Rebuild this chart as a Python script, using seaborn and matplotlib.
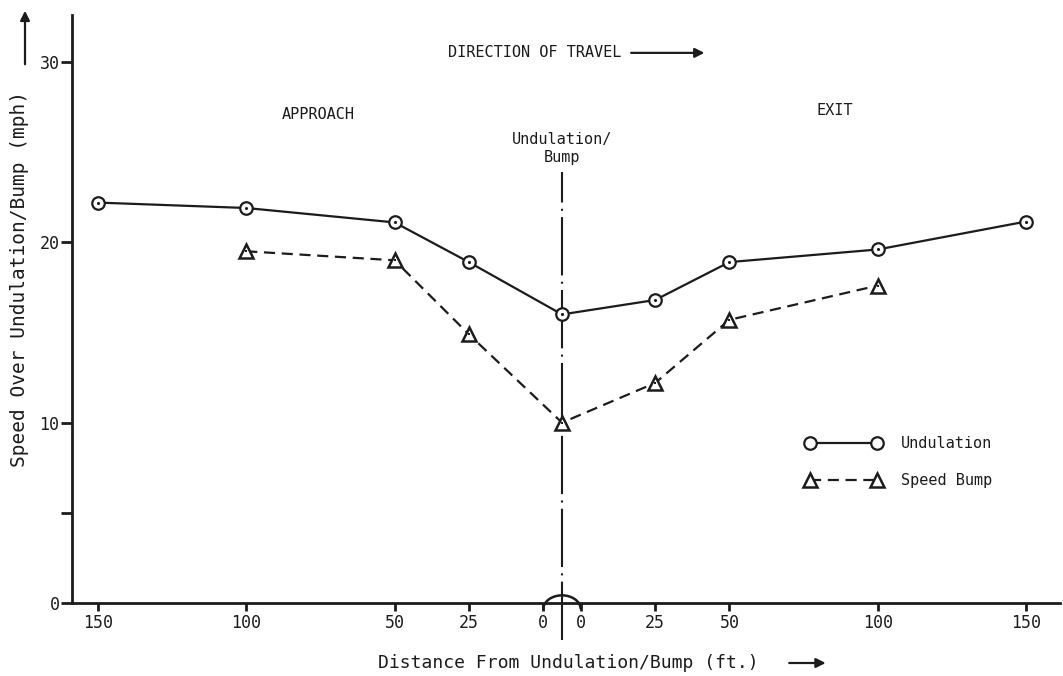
import numpy as np
import pandas as pd
import matplotlib
matplotlib.use("Agg")
import matplotlib.pyplot as plt
from matplotlib.patches import Arc, FancyArrowPatch
import seaborn as sns

# Signed distance from the undulation/bump (negative = approach, positive = exit), ft
undulation_dist = [-150, -100, -50, -25, 0, 25, 50, 100, 150]
undulation_speed = [22.2, 21.9, 21.1, 18.9, 16.0, 16.8, 18.9, 19.6, 21.15]

bump_dist = [-100, -50, -25, 0, 25, 50, 100]
bump_speed = [19.5, 19.0, 14.9, 10.0, 12.2, 15.7, 17.6]

tick_dist = [-150, -100, -50, -25, 0, 0, 25, 50, 100, 150]
tick_side = [-1, -1, -1, -1, -1, 1, 1, 1, 1, 1]
tick_labels = ["150", "100", "50", "25", "0", "0", "25", "50", "100", "150"]

y_ticks = [0, 5, 10, 20, 30]
y_tick_labels = ["0", "", "10", "20", "30"]

GAP = 6.4  # ft of blank space left on each side of the centre line


def to_axis(d, side=None):
    d = np.asarray(d, dtype=float)
    s = np.sign(d) if side is None else np.asarray(side, dtype=float)
    return s * (np.abs(d) + GAP * (np.abs(s) > 0))


sns.set_theme(style="white")
plt.rcParams["font.family"] = ["DejaVu Sans Mono", "DejaVu Sans"]
INK = "#1c1c1c"
W, H = 1063, 676

fig = plt.figure(figsize=(W / 100, H / 100), dpi=100)
ax = fig.add_axes([72 / W, 73 / H, 988 / W, 588 / H])

df_u = pd.DataFrame({"pos": to_axis(undulation_dist), "speed": undulation_speed})
df_b = pd.DataFrame({"pos": to_axis(bump_dist), "speed": bump_speed})

sns.lineplot(data=df_u, x="pos", y="speed", ax=ax, color=INK, lw=1.6,
             marker="o", markersize=9, markerfacecolor="white",
             markeredgecolor=INK, markeredgewidth=1.6, label="Undulation", zorder=4)
sns.lineplot(data=df_b, x="pos", y="speed", ax=ax, color=INK, lw=1.6,
             linestyle=(0, (5, 3)),
             marker="^", markersize=10, markerfacecolor="white",
             markeredgecolor=INK, markeredgewidth=1.8, label="Speed Bump", zorder=4)
# centre dots inside the markers
sns.scatterplot(data=df_u, x="pos", y="speed", ax=ax, color=INK, s=5,
                marker="o", linewidth=0, zorder=5, legend=False)
sns.scatterplot(data=df_b, x="pos", y="speed", ax=ax, color=INK, s=4,
                marker="s", linewidth=0, zorder=5, legend=False)

ax.set_xlim(-165.1, 167.8)
ax.set_ylim(0, 32.6)

for s in ["top", "right"]:
    ax.spines[s].set_visible(False)
for s in ["left", "bottom"]:
    ax.spines[s].set_color(INK)
    ax.spines[s].set_linewidth(2)

ax.set_xticks(to_axis(tick_dist, tick_side))
ax.set_xticklabels(tick_labels)
ax.set_yticks(y_ticks)
ax.set_yticklabels(y_tick_labels)
ax.tick_params(axis="x", direction="out", length=6, width=2, colors=INK,
               labelsize=12, pad=2, bottom=True)
ax.tick_params(axis="y", direction="out", length=8, width=2, colors=INK,
               labelsize=12, pad=1, left=True)
ax.set_xlabel("")
ax.set_ylabel("")

# centre line marking the undulation / bump
ax.plot([0, 0], [-2.05, 23.9], color=INK, lw=1.5,
        linestyle=(0, (28, 3, 1, 3)), clip_on=False, zorder=3)
ax.add_patch(Arc((0, -0.35), 12.6, 1.55, theta1=0, theta2=180, color=INK,
                 lw=1.8, clip_on=False))
ax.text(0, 25.2, "Undulation/\nBump", ha="center", va="center", fontsize=11,
        color=INK, linespacing=1.2)

ax.text(-82, 27.1, "APPROACH", ha="center", va="center", fontsize=11, color=INK)
ax.text(92, 27.3, "EXIT", ha="center", va="center", fontsize=11, color=INK)

ax.text(-38.3, 30.5, "DIRECTION OF TRAVEL", ha="left", va="center",
        fontsize=11, color=INK)
ax.annotate("", xy=(48, 30.5), xytext=(23.3, 30.5),
            arrowprops=dict(arrowstyle="-|>", color=INK, lw=1.6,
                            mutation_scale=14, shrinkA=0, shrinkB=0))

# x-axis title followed by a direction arrow
XL_SIZE = 13
xlabel = "Distance From Undulation/Bump (ft.)"
char_w = 0.602 * XL_SIZE * 100 / 72  # monospace advance width in pixels
x0 = 378
fig.text(x0 / W, 1 - 663 / H, xlabel, ha="left", va="center",
         fontsize=XL_SIZE, color=INK)
x_end = x0 + len(xlabel) * char_w
fig.patches.append(FancyArrowPatch(
    ((x_end + 28) / W, 1 - 663 / H), ((x_end + 70) / W, 1 - 663 / H),
    transform=fig.transFigure, arrowstyle="-|>", mutation_scale=14,
    color=INK, lw=1.6))

fig.text(20 / W, 1 - 279 / H, "Speed Over Undulation/Bump (mph)",
         ha="center", va="center", rotation=90, fontsize=14, color=INK)
fig.patches.append(FancyArrowPatch(
    (25 / W, 1 - 67 / H), (25 / W, 1 - 8 / H),
    transform=fig.transFigure, arrowstyle="-|>", mutation_scale=14,
    color=INK, lw=1.6))

leg = ax.legend(loc="upper left", bbox_to_anchor=(805 / W, 1 - 436 / H),
                bbox_transform=fig.transFigure, frameon=False, numpoints=2,
                fontsize=11, handlelength=5.0, handletextpad=1.3,
                labelspacing=1.45, borderpad=0, borderaxespad=0)
for t in leg.get_texts():
    t.set_color(INK)

fig.savefig("out.png", dpi=100, facecolor="white")
